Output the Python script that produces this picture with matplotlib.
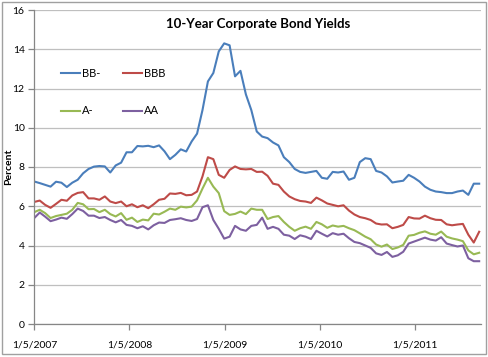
import numpy as np
import pandas as pd
import matplotlib
matplotlib.use("Agg")
from matplotlib import pyplot as plt
from matplotlib.patches import Rectangle

plt.rcParams['font.family'] = ['Lato', 'DejaVu Sans']

# readings every ~3 weeks, 1/5/2007 .. 9/9/2011
dates = pd.date_range('2007-01-05', '2011-09-09', periods=83)

bb_minus = [7.26, 7.18, 7.09, 7.0, 7.25, 7.2, 6.98, 7.2, 7.35, 7.68,
            7.9, 8.02, 8.05, 8.03, 7.72, 8.08, 8.22, 8.75, 8.75, 9.07,
            9.05, 9.08, 9.01, 9.1, 8.8, 8.4, 8.62, 8.9, 8.79, 9.3,
            9.7, 10.9, 12.36, 12.79, 13.89, 14.3, 14.2, 12.62, 12.9, 11.7,
            10.9, 9.81, 9.55, 9.47, 9.25, 9.1, 8.5, 8.25, 7.9, 7.75,
            7.7, 7.75, 7.8, 7.45, 7.4, 7.75, 7.72, 7.77, 7.35, 7.45,
            8.25, 8.45, 8.4, 7.8, 7.72, 7.52, 7.21, 7.26, 7.3, 7.6,
            7.45, 7.26, 7.0, 6.84, 6.75, 6.72, 6.67, 6.67, 6.75, 6.8,
            6.58, 7.15, 7.15]

bbb = [6.22, 6.29, 6.07, 5.92, 6.12, 6.33, 6.28, 6.55, 6.68, 6.72,
       6.4, 6.4, 6.33, 6.5, 6.24, 6.16, 6.24, 6.0, 6.1, 5.95,
       6.05, 5.9, 6.1, 6.33, 6.38, 6.65, 6.63, 6.68, 6.56, 6.58,
       6.75, 7.52, 8.5, 8.4, 7.6, 7.45, 7.85, 8.03, 7.9, 7.88,
       7.9, 7.75, 7.76, 7.55, 7.15, 7.09, 6.75, 6.5, 6.36, 6.27,
       6.24, 6.17, 6.44, 6.3, 6.14, 6.07, 6.0, 6.05, 5.78, 5.58,
       5.45, 5.39, 5.3, 5.12, 5.07, 5.08, 4.88, 4.95, 5.05, 5.45,
       5.38, 5.37, 5.52, 5.39, 5.31, 5.3, 5.08, 5.03, 5.07, 5.1,
       4.55, 4.15, 4.7]

a_minus = [5.7, 5.82, 5.65, 5.4, 5.5, 5.56, 5.62, 5.82, 6.17, 6.1,
           5.85, 5.86, 5.7, 5.82, 5.6, 5.48, 5.65, 5.31, 5.42, 5.2,
           5.32, 5.28, 5.62, 5.58, 5.72, 5.88, 5.82, 5.98, 5.94, 5.98,
           6.3, 6.9, 7.45, 7.0, 6.67, 5.75, 5.56, 5.61, 5.73, 5.6,
           5.88, 5.82, 5.82, 5.35, 5.45, 5.5, 5.2, 4.95, 4.75, 4.88,
           4.96, 4.85, 5.2, 5.08, 4.9, 5.02, 4.96, 5.0, 4.88, 4.78,
           4.62, 4.45, 4.32, 4.05, 3.94, 4.05, 3.82, 3.9, 4.03, 4.5,
           4.54, 4.65, 4.72, 4.6, 4.55, 4.71, 4.45, 4.36, 4.3, 4.22,
           3.75, 3.55, 3.63]

aa = [5.4, 5.68, 5.47, 5.24, 5.32, 5.42, 5.36, 5.6, 5.88, 5.76,
      5.52, 5.52, 5.4, 5.45, 5.3, 5.18, 5.3, 5.05, 5.0, 4.88,
      4.98, 4.82, 5.03, 5.17, 5.15, 5.3, 5.34, 5.39, 5.3, 5.25,
      5.35, 5.95, 6.05, 5.3, 4.85, 4.35, 4.45, 5.0, 4.82, 4.75,
      5.0, 5.05, 5.42, 4.85, 4.95, 4.85, 4.55, 4.5, 4.33, 4.52,
      4.45, 4.33, 4.75, 4.6, 4.46, 4.63, 4.55, 4.6, 4.37, 4.18,
      4.12, 4.0, 3.88, 3.6, 3.52, 3.67, 3.42, 3.5, 3.68, 4.1,
      4.2, 4.3, 4.4, 4.3, 4.25, 4.42, 4.1, 4.02, 3.95, 4.0,
      3.35, 3.2, 3.2]

series = ["BB-", "BBB", "A-", "AA"]
colors = ["#4a7ebb", "#be4b48", "#98b954", "#7d60a0"]
tick_dates = pd.to_datetime(['2007-01-05', '2008-01-05', '2009-01-05', '2010-01-05', '2011-01-05'])
tick_labels = ["1/5/2007", "1/5/2008", "1/5/2009", "1/5/2010", "1/5/2011"]

fig = plt.figure(figsize=(4.89, 3.57), dpi=100)
ax = fig.add_axes([34.3 / 489, 1 - 324 / 357, (481 - 34.3) / 489, (324 - 10) / 357])

lines = {}
for y, name, c in zip([bb_minus, bbb, a_minus, aa], series, colors):
    lines[name], = ax.plot(dates, y, color=c, lw=1.5, label=name, solid_joinstyle='round')

ax.set_ylim(0, 16)
ax.set_yticks(range(0, 17, 2))
ax.set_xlim(pd.Timestamp('2007-01-05'), pd.Timestamp('2011-09-16'))
ax.set_xticks(tick_dates)
ax.set_xticklabels(tick_labels)
ax.grid(axis='y', color='#bfbfbf', lw=0.9)
ax.set_axisbelow(True)
for s in ['top', 'right']:
    ax.spines[s].set_visible(False)
for s in ['left', 'bottom']:
    ax.spines[s].set_color('#868686')
    ax.spines[s].set_linewidth(0.9)
ax.tick_params(axis='both', colors='#868686', labelcolor='black', labelsize=7.5, length=4, width=0.9)
ax.tick_params(axis='x', pad=8)
ax.tick_params(axis='y', pad=3)

ax.set_ylabel("Percent", fontsize=7.5, fontweight='bold')
ax.yaxis.set_label_coords(-0.048, 0.5)
ax.text(0.5, 0.975, "10-Year Corporate Bond Yields", transform=ax.transAxes,
        ha='center', va='top', fontsize=9.5, fontweight='bold')

# legend: row 1 BB-, BBB ; row 2 A-, AA
order = ["BB-", "A-", "BBB", "AA"]
ax.legend([lines[n] for n in order], order, loc='upper left', bbox_to_anchor=(0.05, 0.83),
          ncol=2, frameon=False, fontsize=8, handlelength=1.7, handletextpad=0.2,
          columnspacing=2.0, labelspacing=2.4, borderaxespad=0)

fig.patches.append(Rectangle((2 / 489, 3 / 357), 484 / 489, 352 / 357, transform=fig.transFigure,
                             fill=False, edgecolor='#a0a0a0', lw=1))

plt.savefig("out.png", dpi=100)
